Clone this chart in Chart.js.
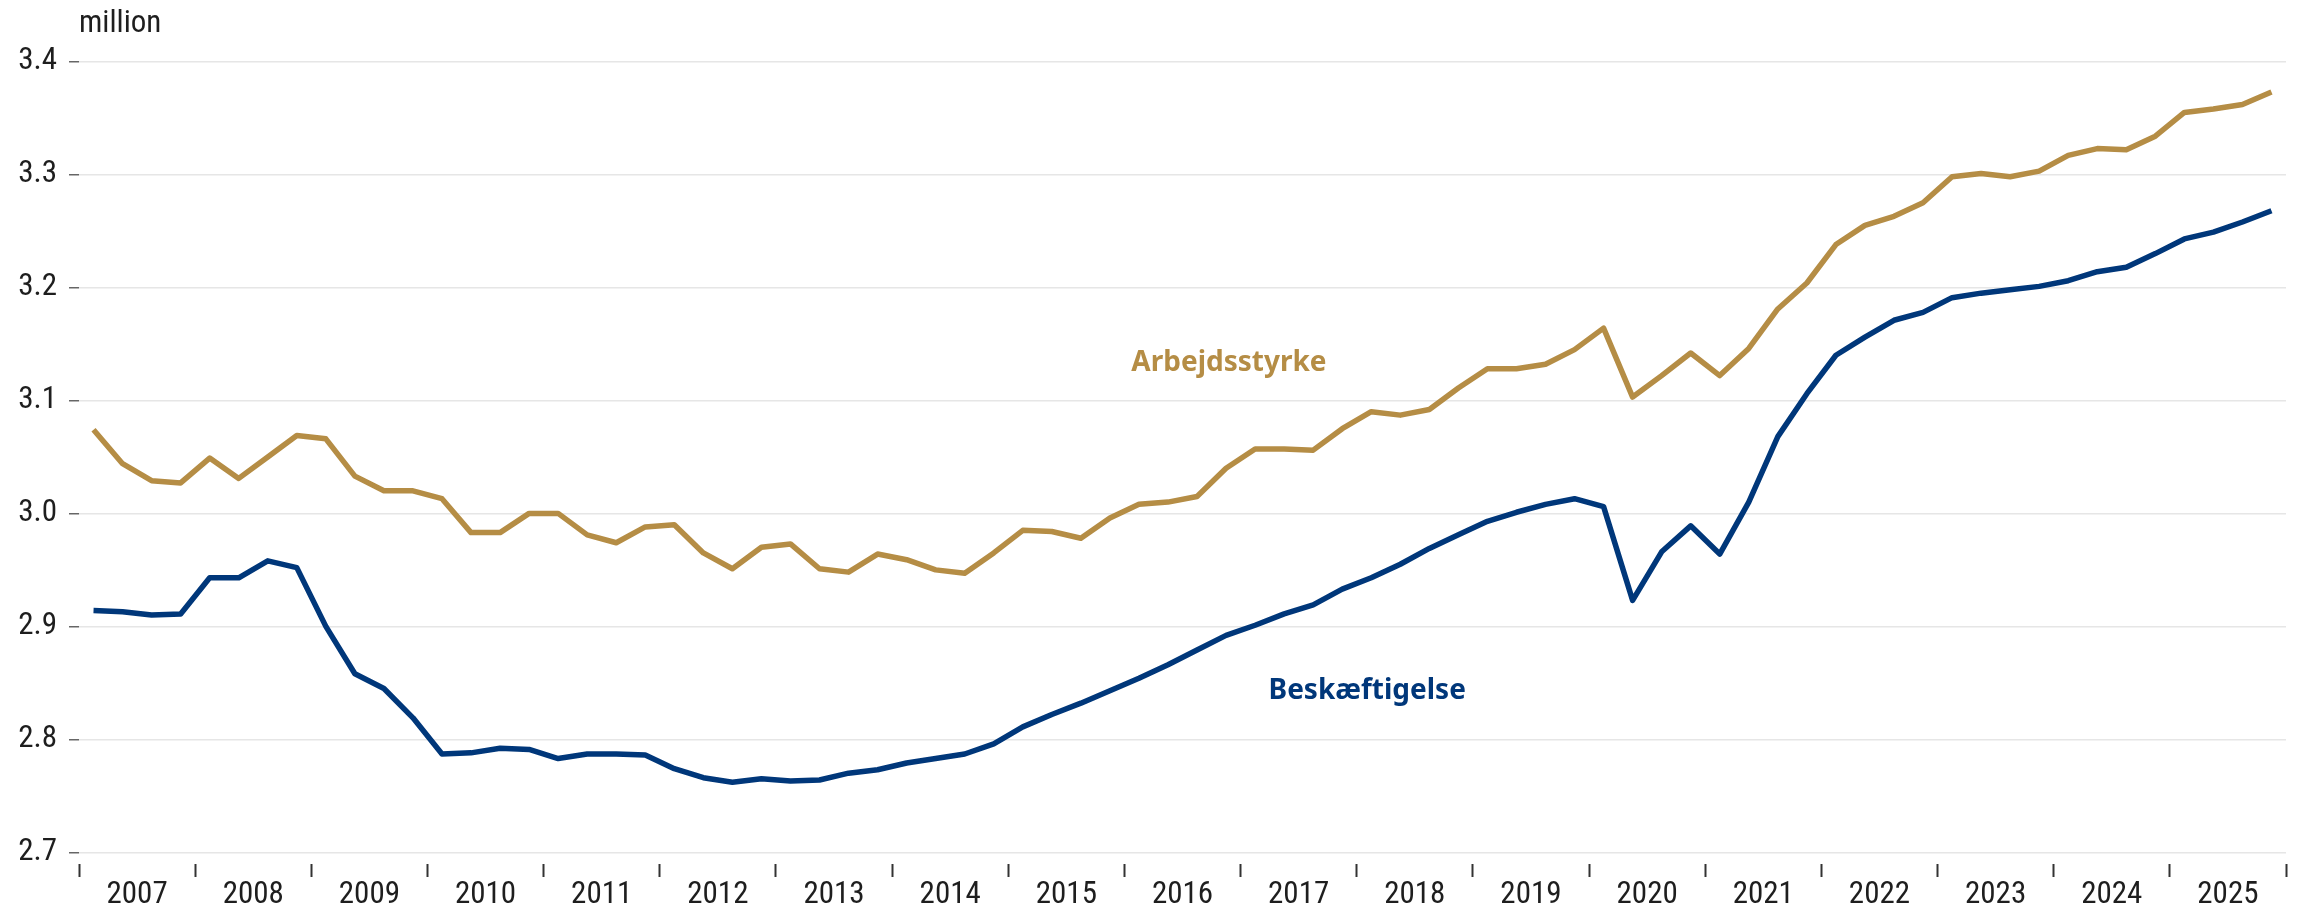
<!DOCTYPE html>
<html>
<head>
<meta charset="utf-8">
<script src="https://cdn.jsdelivr.net/npm/chart.js@4/dist/chart.umd.min.js"></script>
<style>
  html, body { margin: 0; padding: 0; background: #fff; }
  #wrap { width: 2300px; height: 914px; position: relative; }
</style>
</head>
<body>
<div id="wrap"><canvas id="chart"></canvas></div>
<script>
'use strict';

// Quarterly data, million persons.
var years = [2007, 2008, 2009, 2010, 2011, 2012, 2013, 2014, 2015, 2016,
             2017, 2018, 2019, 2020, 2021, 2022, 2023, 2024, 2025];
var quarters = [1, 2, 3, 4];

var arbejdsstyrke = [
  3.074, 3.044, 3.029, 3.027,
  3.049, 3.031, 3.050, 3.069,
  3.066, 3.033, 3.020, 3.020,
  3.013, 2.983, 2.983, 3.000,
  3.000, 2.981, 2.974, 2.988,
  2.990, 2.965, 2.951, 2.970,
  2.973, 2.951, 2.948, 2.964,
  2.959, 2.950, 2.947, 2.965,
  2.985, 2.984, 2.978, 2.996,
  3.008, 3.010, 3.015, 3.040,
  3.057, 3.057, 3.056, 3.075,
  3.090, 3.087, 3.092, 3.111,
  3.128, 3.128, 3.132, 3.145,
  3.164, 3.103, 3.122, 3.142,
  3.122, 3.146, 3.181, 3.204,
  3.238, 3.255, 3.263, 3.275,
  3.298, 3.301, 3.298, 3.303,
  3.317, 3.323, 3.322, 3.334,
  3.355, 3.358, 3.362, 3.373
];

var beskaeftigelse = [
  2.914, 2.913, 2.910, 2.911,
  2.943, 2.943, 2.958, 2.952,
  2.900, 2.858, 2.845, 2.819,
  2.787, 2.788, 2.792, 2.791,
  2.783, 2.787, 2.787, 2.786,
  2.774, 2.766, 2.762, 2.765,
  2.763, 2.764, 2.770, 2.773,
  2.779, 2.783, 2.787, 2.796,
  2.811, 2.822, 2.832, 2.843,
  2.854, 2.866, 2.879, 2.892,
  2.901, 2.911, 2.919, 2.933,
  2.943, 2.955, 2.969, 2.981,
  2.993, 3.001, 3.008, 3.013,
  3.006, 2.923, 2.966, 2.989,
  2.964, 3.010, 3.068, 3.106,
  3.140, 3.156, 3.171, 3.178,
  3.191, 3.195, 3.198, 3.201,
  3.206, 3.214, 3.218, 3.230,
  3.243, 3.249, 3.258, 3.268
];

var yTicks = [2.7, 2.8, 2.9, 3.0, 3.1, 3.2, 3.3, 3.4];
var unitLabel = 'million';

// Series labels sit at data coordinates (decimal year, value).
var seriesLabels = [
  { text: 'Arbejdsstyrke', x: 2016.90, y: 3.133, color: '#b58d45' },
  { text: 'Beskæftigelse', x: 2018.09, y: 2.843, color: '#00377a' }
];

var GOLD = '#b58d45';
var NAVY = '#00377a';
var TICK_FONT = "'Liberation Sans Narrow', 'Roboto Condensed', 'DejaVu Sans Condensed', Roboto, sans-serif";
var LABEL_FONT = "'Noto Sans', 'Open Sans', sans-serif";

// Quarter k of a year is placed in the middle of its quarter slot.
function toPoints(values) {
  var points = [];
  years.forEach(function(year, i) {
    quarters.forEach(function(q, j) {
      points.push({ x: year + (q - 0.5) / 4, y: values[i * 4 + j] });
    });
  });
  return points;
}

var annotations = {
  id: 'annotations',
  afterDatasetsDraw: function(chart) {
    var ctx = chart.ctx;
    var xs = chart.scales.x;
    var ys = chart.scales.y;
    ctx.save();

    ctx.fillStyle = '#1e1e1e';
    ctx.font = '31px ' + TICK_FONT;
    ctx.textAlign = 'left';
    ctx.textBaseline = 'alphabetic';
    ctx.fillText(unitLabel, chart.chartArea.left, 32);

    ctx.font = 'bold 28px ' + LABEL_FONT;
    ctx.textAlign = 'center';
    ctx.textBaseline = 'middle';
    seriesLabels.forEach(function(label) {
      ctx.fillStyle = label.color;
      ctx.fillText(label.text, xs.getPixelForValue(label.x), ys.getPixelForValue(label.y));
    });
    ctx.restore();
  }
};

function lineDataset(label, values, color) {
  return {
    label: label,
    data: toPoints(values),
    borderColor: color,
    backgroundColor: color,
    borderWidth: 5.5,
    pointRadius: 0,
    tension: 0,
    borderJoinStyle: 'round'
  };
}

new Chart(document.getElementById('chart'), {
  type: 'line',
  data: {
    datasets: [
      lineDataset('Arbejdsstyrke', arbejdsstyrke, GOLD),
      lineDataset('Beskæftigelse', beskaeftigelse, NAVY)
    ]
  },
  options: {
    responsive: true,
    maintainAspectRatio: false,
    animation: false,
    layout: { padding: { top: 61.6, right: 14, bottom: 0, left: 0 } },
    plugins: {
      legend: { display: false },
      tooltip: { enabled: false }
    },
    scales: {
      x: {
        type: 'linear',
        min: years[0],
        max: years[years.length - 1] + 1,
        afterBuildTicks: function(axis) {
          // Year boundaries carry tick marks, year middles carry the labels.
          var ticks = [];
          years.forEach(function(year) {
            ticks.push({ value: year });
            ticks.push({ value: year + 0.5 });
          });
          ticks.push({ value: years[years.length - 1] + 1 });
          axis.ticks = ticks;
        },
        afterFit: function(axis) { axis.height = 50; },
        border: { display: false },
        grid: {
          drawOnChartArea: false,
          drawTicks: true,
          tickLength: 13,
          tickWidth: 2,
          tickColor: function(ctx) {
            return ctx.tick && Number.isInteger(ctx.tick.value) ? '#333' : 'rgba(0,0,0,0)';
          }
        },
        ticks: {
          autoSkip: false,
          maxRotation: 0,
          padding: 0,
          color: '#1e1e1e',
          font: { family: TICK_FONT, size: 31 },
          callback: function(value) {
            return Number.isInteger(value) ? '' : String(Math.floor(value));
          }
        }
      },
      y: {
        min: 2.6896,
        max: 3.4,
        afterBuildTicks: function(axis) {
          axis.ticks = yTicks.map(function(v) { return { value: v }; });
        },
        afterFit: function(axis) { axis.width = 79; },
        border: { display: false },
        grid: {
          color: '#e6e6e6',
          lineWidth: 1.5,
          drawTicks: true,
          tickLength: 10,
          tickWidth: 1.5,
          tickColor: '#666'
        },
        ticks: {
          padding: 12,
          color: '#1e1e1e',
          font: { family: TICK_FONT, size: 31 },
          callback: function(value) { return value.toFixed(1); }
        }
      }
    }
  },
  plugins: [annotations]
});
</script>
</body>
</html>
